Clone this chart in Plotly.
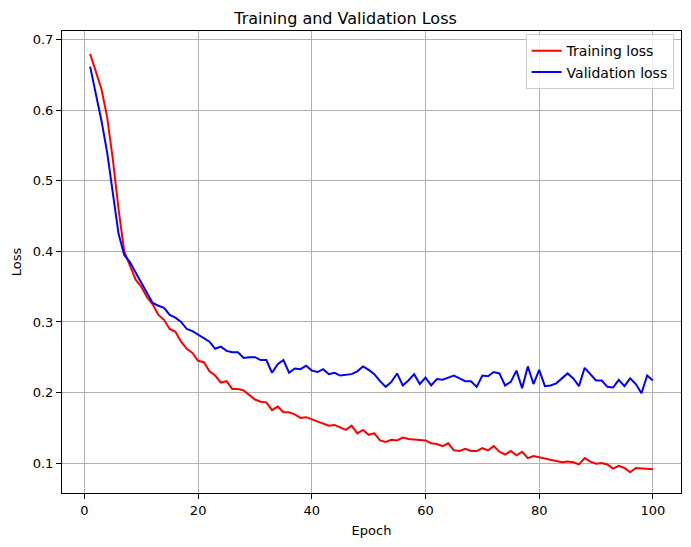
import plotly.graph_objects as go

epochs = list(range(1, 101))
train_loss = [0.68, 0.655, 0.63, 0.59, 0.53, 0.46, 0.40, 0.38, 0.36, 0.35,
              0.335, 0.325, 0.31, 0.303, 0.29, 0.286, 0.272, 0.262, 0.256, 0.245,
              0.243, 0.23, 0.224, 0.214, 0.216, 0.205, 0.205, 0.203, 0.196, 0.19,
              0.187, 0.186, 0.175, 0.18, 0.172, 0.172, 0.169, 0.164, 0.165, 0.162,
              0.158, 0.155, 0.153, 0.154, 0.151, 0.147, 0.153, 0.142, 0.147, 0.14,
              0.142, 0.132, 0.13, 0.133, 0.132, 0.136, 0.134, 0.133, 0.132, 0.132,
              0.128, 0.127, 0.124, 0.128, 0.118, 0.117, 0.12, 0.117, 0.117, 0.121,
              0.118, 0.124, 0.116, 0.112, 0.117, 0.111, 0.116, 0.107, 0.11, 0.108,
              0.107, 0.104, 0.103, 0.101, 0.102, 0.101, 0.098, 0.107, 0.102, 0.099,
              0.1, 0.098, 0.092, 0.096, 0.093, 0.087, 0.093, 0.092, 0.092, 0.091]
val_loss = [0.662, 0.625, 0.585, 0.54, 0.48, 0.425, 0.395, 0.385, 0.37, 0.355,
            0.34, 0.327, 0.323, 0.32, 0.31, 0.306, 0.3, 0.29, 0.287, 0.282,
            0.277, 0.272, 0.262, 0.265, 0.259, 0.257, 0.257, 0.249, 0.25, 0.25,
            0.246, 0.246, 0.228, 0.24, 0.246, 0.228, 0.234, 0.233, 0.238, 0.231,
            0.229, 0.233, 0.226, 0.228, 0.224, 0.225, 0.226, 0.23, 0.237, 0.232,
            0.226, 0.216, 0.208, 0.215, 0.227, 0.21, 0.217, 0.226, 0.212, 0.221,
            0.21, 0.219, 0.218, 0.221, 0.224, 0.22, 0.216, 0.216, 0.208, 0.224,
            0.223, 0.229, 0.227, 0.21, 0.215, 0.231, 0.206, 0.237, 0.212, 0.232,
            0.209, 0.21, 0.213, 0.22, 0.227, 0.22, 0.209, 0.235, 0.226, 0.217,
            0.217, 0.208, 0.207, 0.218, 0.209, 0.22, 0.212, 0.199, 0.224, 0.217]

font = "DejaVu Sans"

fig = go.Figure()
fig.add_trace(go.Scatter(x=epochs, y=train_loss, mode="lines", name="Training loss",
                         line=dict(color="red", width=2)))
fig.add_trace(go.Scatter(x=epochs, y=val_loss, mode="lines", name="Validation loss",
                         line=dict(color="blue", width=2)))

axis_common = dict(showline=True, linecolor="black", linewidth=1, mirror=True,
                   ticks="outside", ticklen=5, tickcolor="black",
                   showgrid=True, gridcolor="#b0b0b0", gridwidth=1, zeroline=False,
                   tickfont=dict(family=font, size=13, color="black"))

fig.update_layout(
    width=691, height=547,
    margin=dict(l=62, r=10, t=31, b=54),
    paper_bgcolor="white", plot_bgcolor="white",
    title=dict(text="Training and Validation Loss", x=0.5, xanchor="center",
               y=1 - 18 / 547, yanchor="middle",
               font=dict(family=font, size=16, color="black")),
    xaxis=dict(range=[-3.95, 104.95], tickvals=[0, 20, 40, 60, 80, 100],
               title=dict(text="Epoch", font=dict(family=font, size=13, color="black"), standoff=9),
               **axis_common),
    yaxis=dict(range=[0.0575, 0.7125], tickvals=[0.1, 0.2, 0.3, 0.4, 0.5, 0.6, 0.7],
               tickformat=".1f",
               title=dict(text="Loss", font=dict(family=font, size=13, color="black"), standoff=8),
               **axis_common),
    legend=dict(x=0.988, y=0.993, xanchor="right", yanchor="top",
                bgcolor="rgba(255,255,255,0.8)", bordercolor="#cccccc", borderwidth=1,
                font=dict(family=font, size=14, color="black"), tracegroupgap=0),
    showlegend=True,
)

fig.write_html("out.html")
